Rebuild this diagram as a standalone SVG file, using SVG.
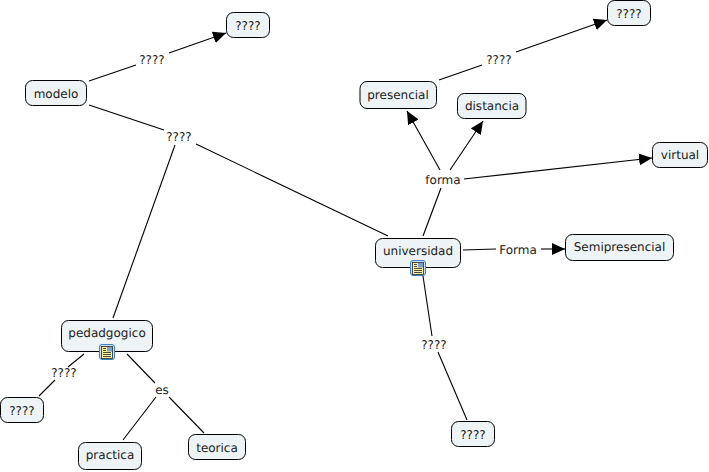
<svg xmlns="http://www.w3.org/2000/svg" width="709" height="472" viewBox="0 0 709 472">
<style>
text{font-family:"DejaVu Sans",Verdana,sans-serif;font-size:12px;fill:#222;text-anchor:middle;text-rendering:geometricPrecision}
.n{fill:#eef4f6;stroke:#000;stroke-width:1}
.c{fill:none;stroke:#000;stroke-width:1.1}
.a{marker-end:url(#ah)}
</style>
<defs>
<marker id="ah" markerUnits="userSpaceOnUse" markerWidth="14" markerHeight="12" refX="13" refY="6" orient="auto"><path d="M0 0L13 6L0 12Z" fill="#000"/></marker>
<g id="doc"><rect x="-7.500" y="-7.500" width="15" height="15" rx="2.500" fill="#cfe3f7" stroke="#3a80cc"/><rect x="-5.500" y="-5.500" width="11" height="12" fill="#fbf0a0" stroke="#222" stroke-width=".8"/><path d="M-4-3.500h3M-4-1.500h3M-4 .5h8M-4 2.500h8M-4 4.500h8" stroke="#222" stroke-width=".8"/><rect x="0" y="-5" width="5" height="4.500" fill="#7f9fd0"/></g>
</defs>
<rect width="709" height="472" fill="#fff"/>
<g id="connectors">
<path class="c" d="M89 81L136 65"/><path class="c a" d="M169 53L226 33"/>
<path class="c" d="M89 105L164 130"/><path class="c" d="M196 144L388 236"/><path class="c" d="M175 145L113 318"/>
<path class="c" d="M84 354L68 367"/><path class="c" d="M55 380L39 396"/>
<path class="c" d="M127 354L155 383"/><path class="c" d="M156 397L123 440"/><path class="c" d="M169 397L204 433"/>
<path class="c" d="M423 236L441 188"/><path class="c a" d="M464 179L652 158"/>
<path class="c a" d="M440 170L407 111"/><path class="c a" d="M450 170L483 121"/>
<path class="c" d="M463 250L496 249"/><path class="c a" d="M541 249L565 249"/>
<path class="c" d="M423 276L432 336"/><path class="c" d="M438 352L467 420"/>
<path class="c" d="M439 80L482 65"/><path class="c a" d="M516 52L607 20"/>
</g>
<g id="labels">
<text x="152" y="64">????</text>
<text x="179" y="141">????</text>
<text x="64" y="377">????</text>
<text x="162" y="394">es</text>
<text x="443" y="184">forma</text>
<text x="518" y="254">Forma</text>
<text x="434" y="349">????</text>
<text x="499" y="64">????</text>
</g>
<g id="modelo"><rect class="n" x="25.500" y="80.500" width="61" height="25" rx="7"/><text x="56" y="98">modelo</text></g>
<g id="q1"><rect class="n" x="226.500" y="12.500" width="43" height="25" rx="7"/><text x="248" y="30">????</text></g>
<g id="presencial"><rect class="n" x="360" y="81.500" width="76.500" height="27" rx="7"/><text x="398" y="99">presencial</text></g>
<g id="distancia"><rect class="n" x="457.500" y="93.500" width="68.500" height="25" rx="7"/><text x="492" y="110">distancia</text></g>
<g id="virtual"><rect class="n" x="652.500" y="142.500" width="55" height="25" rx="7"/><text x="680" y="159">virtual</text></g>
<g id="q2"><rect class="n" x="607.500" y="0.500" width="43" height="25" rx="7"/><text x="629" y="18">????</text></g>
<g id="universidad"><rect class="n" x="375.500" y="238.500" width="85" height="29" rx="7"/><text x="418" y="255">universidad</text><use href="#doc" x="418" y="268"/></g>
<g id="semipresencial"><rect class="n" x="565.500" y="234.500" width="108" height="26" rx="7"/><text x="619.500" y="251">Semipresencial</text></g>
<g id="pedadgogico"><rect class="n" x="61.500" y="320.500" width="91" height="31" rx="7"/><text x="107" y="337">pedadgogico</text><use href="#doc" x="107" y="352"/></g>
<g id="q3"><rect class="n" x="0.500" y="397.500" width="43" height="25" rx="7"/><text x="22" y="415">????</text></g>
<g id="practica"><rect class="n" x="78.500" y="442.500" width="63" height="27" rx="7"/><text x="110" y="459">practica</text></g>
<g id="teorica"><rect class="n" x="188.500" y="434.500" width="57" height="25" rx="7"/><text x="217" y="452">teorica</text></g>
<g id="q4"><rect class="n" x="451.500" y="421.500" width="43" height="25" rx="7"/><text x="473" y="439">????</text></g>
</svg>
